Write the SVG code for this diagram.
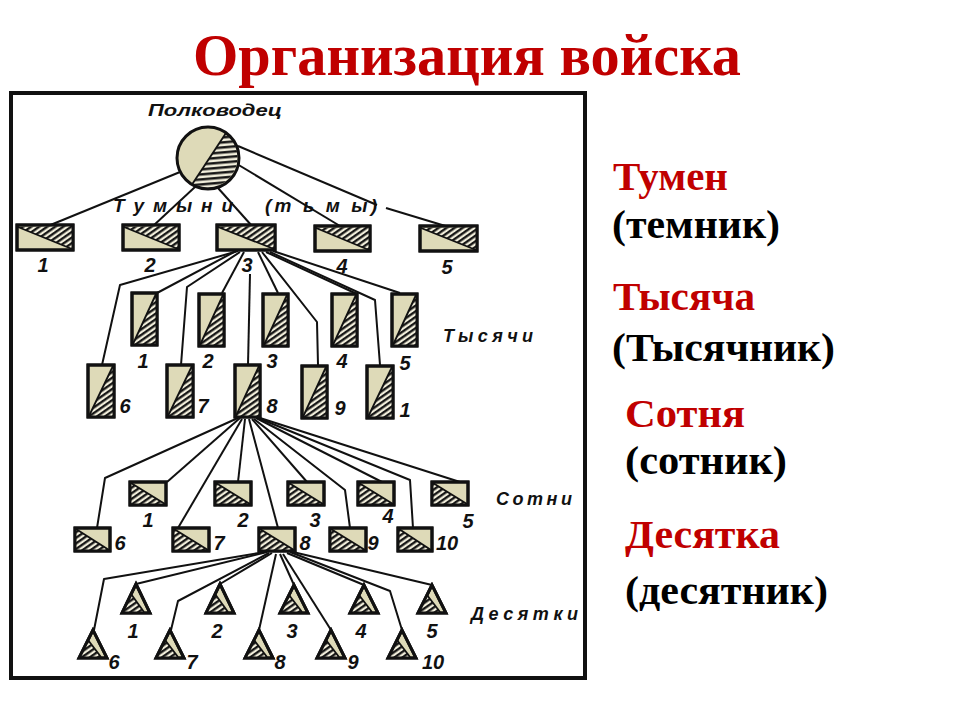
<svg xmlns="http://www.w3.org/2000/svg" width="960" height="720" viewBox="0 0 960 720">
<defs>
<pattern id="hatch" width="4.6" height="4.6" patternUnits="userSpaceOnUse" patternTransform="rotate(55)">
<rect width="4.6" height="4.6" fill="#f2efdc"/>
<line x1="1.2" y1="0" x2="1.2" y2="4.6" stroke="#111" stroke-width="2.3"/>
</pattern>
<pattern id="hatchc" width="5" height="5" patternUnits="userSpaceOnUse" patternTransform="rotate(85)">
<rect width="5" height="5" fill="#f2efdc"/>
<line x1="1.3" y1="0" x2="1.3" y2="5" stroke="#111" stroke-width="2.4"/>
</pattern>
</defs>
<style>
.title{font-family:"Liberation Serif","Times New Roman",serif;font-weight:bold;fill:#c00000}
.rt{font-family:"Liberation Serif","Times New Roman",serif;font-weight:bold;font-size:40px}
.red{fill:#c00000}
.blk{fill:#000}
.lbl{font-family:"Liberation Sans",Arial,sans-serif;font-weight:bold;font-style:italic;fill:#111}
.num{font-family:"Liberation Sans",Arial,sans-serif;font-weight:bold;font-style:italic;font-size:20px;fill:#111}
.sec{font-size:18px}
.shape{fill:#dedab8;stroke:#111;stroke-width:3}
.ht{fill:url(#hatch);stroke:none}
.hc{fill:url(#hatchc);stroke:none}
.dv{stroke:#111;stroke-width:1.8;fill:none}
.ol{fill:none;stroke:#111;stroke-width:3}
.con{fill:none;stroke:#111;stroke-width:2;stroke-linejoin:round}
</style>
<rect width="960" height="720" fill="#fff"/>
<text class="title" x="193" y="75" font-size="60" textLength="548" lengthAdjust="spacingAndGlyphs">Организация войска</text>

<g id="frame"><rect x="11" y="93" width="574" height="585" fill="#fff" stroke="#111" stroke-width="4"/></g>

<g id="connectors">
<line class="con" x1="180" y1="172" x2="48" y2="226"/>
<line class="con" x1="195" y1="187" x2="153" y2="226"/>
<line class="con" x1="218" y1="188" x2="252" y2="226"/>
<line class="con" x1="237" y1="164" x2="340" y2="226"/>
<line class="con" x1="238" y1="146" x2="377" y2="205"/>
<line class="con" x1="386" y1="208" x2="452" y2="228"/>
<polyline class="con" points="238,251 120,285 102,365"/>
<polyline class="con" points="236,251 157,293"/>
<polyline class="con" points="240,252 187,287 181,365"/>
<polyline class="con" points="244,252 222,293"/>
<polyline class="con" points="250,274 248,365"/>
<polyline class="con" points="258,252 278,293"/>
<polyline class="con" points="262,252 317,322 318,365"/>
<polyline class="con" points="266,252 357,294"/>
<polyline class="con" points="270,252 375,300 380,365"/>
<polyline class="con" points="273,251 400,293"/>
<polyline class="con" points="238,418 105,478 97,528"/>
<polyline class="con" points="240,418 167,482"/>
<polyline class="con" points="242,419 178,528"/>
<polyline class="con" points="245,419 238,482"/>
<polyline class="con" points="249,419 278,528"/>
<polyline class="con" points="252,419 307,482"/>
<polyline class="con" points="254,419 345,490 350,528"/>
<polyline class="con" points="256,418 382,482"/>
<polyline class="con" points="258,418 410,480 413,528"/>
<polyline class="con" points="260,418 460,482"/>
<polyline class="con" points="265,552 104,579 94,630"/>
<polyline class="con" points="267,552 136,584"/>
<polyline class="con" points="269,553 178,601 171,630"/>
<polyline class="con" points="272,553 220,584"/>
<polyline class="con" points="276,554 259,630"/>
<polyline class="con" points="280,554 294,585"/>
<polyline class="con" points="283,554 331,630"/>
<polyline class="con" points="287,553 364,585"/>
<polyline class="con" points="290,552 390,591 402,630"/>
<polyline class="con" points="293,552 432,585"/>
</g>

<g id="commander">
<circle cx="208" cy="158" r="31" fill="#dedab8"/>
<path class="hc" d="M226,133 A31,31 0 0 1 192,184.5 Z"/>
<line class="dv" x1="226" y1="133" x2="192" y2="184.5"/>
<circle cx="208" cy="158" r="31" class="ol"/>
<text class="lbl" x="148" y="116" font-size="17" textLength="134" lengthAdjust="spacingAndGlyphs">Полководец</text>
</g>

<g id="tumens-label">
<text class="lbl" x="113" y="212" font-size="19" textLength="120" lengthAdjust="spacing">Т у м ы н и</text>
<text class="lbl" x="265" y="212" font-size="19" textLength="112" lengthAdjust="spacing">(т ь м ы)</text>
</g>

<g id="tumen1"><rect class="shape" x="17" y="225" width="56" height="25"/><polygon class="ht" points="18,227 72,226 72,249"/><line class="dv" x1="18" y1="227" x2="72" y2="249"/><rect class="ol" x="17" y="225" width="56" height="25"/><text class="num" x="43" y="272" text-anchor="middle">1</text></g>
<g id="tumen2"><rect class="shape" x="123" y="225" width="56" height="25"/><polygon class="ht" points="124,227 178,226 178,249"/><line class="dv" x1="124" y1="227" x2="178" y2="249"/><rect class="ol" x="123" y="225" width="56" height="25"/><text class="num" x="150" y="272" text-anchor="middle">2</text></g>
<g id="tumen3"><rect class="shape" x="217" y="225" width="58" height="25"/><polygon class="ht" points="218,227 274,226 274,249"/><line class="dv" x1="218" y1="227" x2="274" y2="249"/><rect class="ol" x="217" y="225" width="58" height="25"/><text class="num" x="247" y="272" text-anchor="middle">3</text></g>
<g id="tumen4"><rect class="shape" x="315" y="226" width="55" height="25"/><polygon class="ht" points="316,228 369,227 369,250"/><line class="dv" x1="316" y1="228" x2="369" y2="250"/><rect class="ol" x="315" y="226" width="55" height="25"/><text class="num" x="342" y="273" text-anchor="middle">4</text></g>
<g id="tumen5"><rect class="shape" x="420" y="226" width="57" height="25"/><polygon class="ht" points="421,228 476,227 476,250"/><line class="dv" x1="421" y1="228" x2="476" y2="250"/><rect class="ol" x="420" y="226" width="57" height="25"/><text class="num" x="447" y="274" text-anchor="middle">5</text></g>

<g id="th1"><rect class="shape" x="132" y="293" width="25" height="52"/><polygon class="ht" points="156,294 156,344 133,344"/><line class="dv" x1="156" y1="294" x2="133" y2="344"/><rect class="ol" x="132" y="293" width="25" height="52"/><text class="num" x="143" y="368" text-anchor="middle">1</text></g>
<g id="th2"><rect class="shape" x="199" y="294" width="25" height="52"/><polygon class="ht" points="223,295 223,345 200,345"/><line class="dv" x1="223" y1="295" x2="200" y2="345"/><rect class="ol" x="199" y="294" width="25" height="52"/><text class="num" x="208" y="368" text-anchor="middle">2</text></g>
<g id="th3"><rect class="shape" x="263" y="294" width="25" height="52"/><polygon class="ht" points="287,295 287,345 264,345"/><line class="dv" x1="287" y1="295" x2="264" y2="345"/><rect class="ol" x="263" y="294" width="25" height="52"/><text class="num" x="272" y="368" text-anchor="middle">3</text></g>
<g id="th4"><rect class="shape" x="332" y="294" width="25" height="52"/><polygon class="ht" points="356,295 356,345 333,345"/><line class="dv" x1="356" y1="295" x2="333" y2="345"/><rect class="ol" x="332" y="294" width="25" height="52"/><text class="num" x="342" y="368" text-anchor="middle">4</text></g>
<g id="th5"><rect class="shape" x="392" y="294" width="25" height="52"/><polygon class="ht" points="416,295 416,345 393,345"/><line class="dv" x1="416" y1="295" x2="393" y2="345"/><rect class="ol" x="392" y="294" width="25" height="52"/><text class="num" x="405" y="370" text-anchor="middle">5</text></g>
<g id="th6"><rect class="shape" x="88" y="365" width="26" height="52"/><polygon class="ht" points="113,366 113,416 89,416"/><line class="dv" x1="113" y1="366" x2="89" y2="416"/><rect class="ol" x="88" y="365" width="26" height="52"/><text class="num" x="125" y="413" text-anchor="middle">6</text></g>
<g id="th7"><rect class="shape" x="167" y="365" width="26" height="52"/><polygon class="ht" points="192,366 192,416 168,416"/><line class="dv" x1="192" y1="366" x2="168" y2="416"/><rect class="ol" x="167" y="365" width="26" height="52"/><text class="num" x="203" y="413" text-anchor="middle">7</text></g>
<g id="th8"><rect class="shape" x="235" y="365" width="25" height="52"/><polygon class="ht" points="259,366 259,416 236,416"/><line class="dv" x1="259" y1="366" x2="236" y2="416"/><rect class="ol" x="235" y="365" width="25" height="52"/><text class="num" x="272" y="413" text-anchor="middle">8</text></g>
<g id="th9"><rect class="shape" x="302" y="366" width="25" height="52"/><polygon class="ht" points="326,367 326,417 303,417"/><line class="dv" x1="326" y1="367" x2="303" y2="417"/><rect class="ol" x="302" y="366" width="25" height="52"/><text class="num" x="340" y="415" text-anchor="middle">9</text></g>
<g id="th10"><rect class="shape" x="367" y="366" width="26" height="52"/><polygon class="ht" points="392,367 392,417 368,417"/><line class="dv" x1="392" y1="367" x2="368" y2="417"/><rect class="ol" x="367" y="366" width="26" height="52"/><text class="num" x="405" y="417" text-anchor="middle">1</text></g>
<text class="lbl sec" x="443" y="342" textLength="90" lengthAdjust="spacing">Тысячи</text>

<g id="h1"><rect class="shape" x="130" y="482" width="36" height="23"/><polygon class="ht" points="131,483 131,504 165,504"/><line class="dv" x1="131" y1="483" x2="165" y2="504"/><rect class="ol" x="130" y="482" width="36" height="23"/><text class="num" x="148" y="527" text-anchor="middle">1</text></g>
<g id="h2"><rect class="shape" x="215" y="482" width="36" height="23"/><polygon class="ht" points="216,483 216,504 250,504"/><line class="dv" x1="216" y1="483" x2="250" y2="504"/><rect class="ol" x="215" y="482" width="36" height="23"/><text class="num" x="243" y="527" text-anchor="middle">2</text></g>
<g id="h3"><rect class="shape" x="288" y="482" width="36" height="23"/><polygon class="ht" points="289,483 289,504 323,504"/><line class="dv" x1="289" y1="483" x2="323" y2="504"/><rect class="ol" x="288" y="482" width="36" height="23"/><text class="num" x="315" y="527" text-anchor="middle">3</text></g>
<g id="h4"><rect class="shape" x="358" y="482" width="36" height="23"/><polygon class="ht" points="359,483 359,504 393,504"/><line class="dv" x1="359" y1="483" x2="393" y2="504"/><rect class="ol" x="358" y="482" width="36" height="23"/><text class="num" x="388" y="523" text-anchor="middle">4</text></g>
<g id="h5"><rect class="shape" x="432" y="482" width="36" height="23"/><polygon class="ht" points="433,483 433,504 467,504"/><line class="dv" x1="433" y1="483" x2="467" y2="504"/><rect class="ol" x="432" y="482" width="36" height="23"/><text class="num" x="468" y="528" text-anchor="middle">5</text></g>
<g id="h6"><rect class="shape" x="75" y="528" width="35" height="23"/><polygon class="ht" points="76,529 76,550 109,550"/><line class="dv" x1="76" y1="529" x2="109" y2="550"/><rect class="ol" x="75" y="528" width="35" height="23"/><text class="num" x="120" y="550" text-anchor="middle">6</text></g>
<g id="h7"><rect class="shape" x="173" y="528" width="36" height="23"/><polygon class="ht" points="174,529 174,550 208,550"/><line class="dv" x1="174" y1="529" x2="208" y2="550"/><rect class="ol" x="173" y="528" width="36" height="23"/><text class="num" x="219" y="550" text-anchor="middle">7</text></g>
<g id="h8"><rect class="shape" x="259" y="528" width="36" height="23"/><polygon class="ht" points="260,529 260,550 294,550"/><line class="dv" x1="260" y1="529" x2="294" y2="550"/><rect class="ol" x="259" y="528" width="36" height="23"/><text class="num" x="305" y="550" text-anchor="middle">8</text></g>
<g id="h9"><rect class="shape" x="330" y="528" width="36" height="23"/><polygon class="ht" points="331,529 331,550 365,550"/><line class="dv" x1="331" y1="529" x2="365" y2="550"/><rect class="ol" x="330" y="528" width="36" height="23"/><text class="num" x="373" y="550" text-anchor="middle">9</text></g>
<g id="h10"><rect class="shape" x="398" y="528" width="34" height="23"/><polygon class="ht" points="399,529 399,550 431,550"/><line class="dv" x1="399" y1="529" x2="431" y2="550"/><rect class="ol" x="398" y="528" width="34" height="23"/><text class="num" x="447" y="550" text-anchor="middle">10</text></g>
<text class="lbl sec" x="496" y="505" textLength="76" lengthAdjust="spacing">Сотни</text>

<g id="t1"><polygon class="shape" points="136,584 122,613 150,613"/><polygon class="ht" points="131,594 123,612 144,612"/><line class="dv" x1="131" y1="594" x2="144" y2="612"/><polygon class="ol" points="136,584 122,613 150,613"/><text class="num" x="133" y="638" text-anchor="middle">1</text></g>
<g id="t2"><polygon class="shape" points="220,584 206,613 234,613"/><polygon class="ht" points="215,594 207,612 228,612"/><line class="dv" x1="215" y1="594" x2="228" y2="612"/><polygon class="ol" points="220,584 206,613 234,613"/><text class="num" x="217" y="638" text-anchor="middle">2</text></g>
<g id="t3"><polygon class="shape" points="294,585 280,613 308,613"/><polygon class="ht" points="289,595 281,612 302,612"/><line class="dv" x1="289" y1="595" x2="302" y2="612"/><polygon class="ol" points="294,585 280,613 308,613"/><text class="num" x="292" y="638" text-anchor="middle">3</text></g>
<g id="t4"><polygon class="shape" points="364,585 350,613 378,613"/><polygon class="ht" points="359,595 351,612 372,612"/><line class="dv" x1="359" y1="595" x2="372" y2="612"/><polygon class="ol" points="364,585 350,613 378,613"/><text class="num" x="361" y="638" text-anchor="middle">4</text></g>
<g id="t5"><polygon class="shape" points="432,585 418,613 446,613"/><polygon class="ht" points="427,595 419,612 440,612"/><line class="dv" x1="427" y1="595" x2="440" y2="612"/><polygon class="ol" points="432,585 418,613 446,613"/><text class="num" x="432" y="638" text-anchor="middle">5</text></g>
<g id="t6"><polygon class="shape" points="93,630 79,658 107,658"/><polygon class="ht" points="88,640 80,657 101,657"/><line class="dv" x1="88" y1="640" x2="101" y2="657"/><polygon class="ol" points="93,630 79,658 107,658"/><text class="num" x="114" y="669" text-anchor="middle">6</text></g>
<g id="t7"><polygon class="shape" points="170,630 156,658 184,658"/><polygon class="ht" points="165,640 157,657 178,657"/><line class="dv" x1="165" y1="640" x2="178" y2="657"/><polygon class="ol" points="170,630 156,658 184,658"/><text class="num" x="192" y="669" text-anchor="middle">7</text></g>
<g id="t8"><polygon class="shape" points="259,630 245,658 273,658"/><polygon class="ht" points="254,640 246,657 267,657"/><line class="dv" x1="254" y1="640" x2="267" y2="657"/><polygon class="ol" points="259,630 245,658 273,658"/><text class="num" x="280" y="669" text-anchor="middle">8</text></g>
<g id="t9"><polygon class="shape" points="331,630 317,658 345,658"/><polygon class="ht" points="326,640 318,657 339,657"/><line class="dv" x1="326" y1="640" x2="339" y2="657"/><polygon class="ol" points="331,630 317,658 345,658"/><text class="num" x="353" y="669" text-anchor="middle">9</text></g>
<g id="t10"><polygon class="shape" points="402,630 388,658 416,658"/><polygon class="ht" points="397,640 389,657 410,657"/><line class="dv" x1="397" y1="640" x2="410" y2="657"/><polygon class="ol" points="402,630 388,658 416,658"/><text class="num" x="433" y="669" text-anchor="middle">10</text></g>
<text class="lbl sec" x="471" y="620" textLength="107" lengthAdjust="spacing">Десятки</text>

<g id="legend">
<text class="rt red" x="613" y="190" textLength="115" lengthAdjust="spacingAndGlyphs">Тумен</text>
<text class="rt blk" x="612" y="238" textLength="168" lengthAdjust="spacingAndGlyphs">(темник)</text>
<text class="rt red" x="613" y="310" textLength="142" lengthAdjust="spacingAndGlyphs">Тысяча</text>
<text class="rt blk" x="612" y="361" textLength="223" lengthAdjust="spacingAndGlyphs">(Тысячник)</text>
<text class="rt red" x="625" y="427" textLength="120" lengthAdjust="spacingAndGlyphs">Сотня</text>
<text class="rt blk" x="625" y="474" textLength="162" lengthAdjust="spacingAndGlyphs">(сотник)</text>
<text class="rt red" x="625" y="548" textLength="155" lengthAdjust="spacingAndGlyphs">Десятка</text>
<text class="rt blk" x="625" y="604" textLength="203" lengthAdjust="spacingAndGlyphs">(десятник)</text>
</g>
</svg>
